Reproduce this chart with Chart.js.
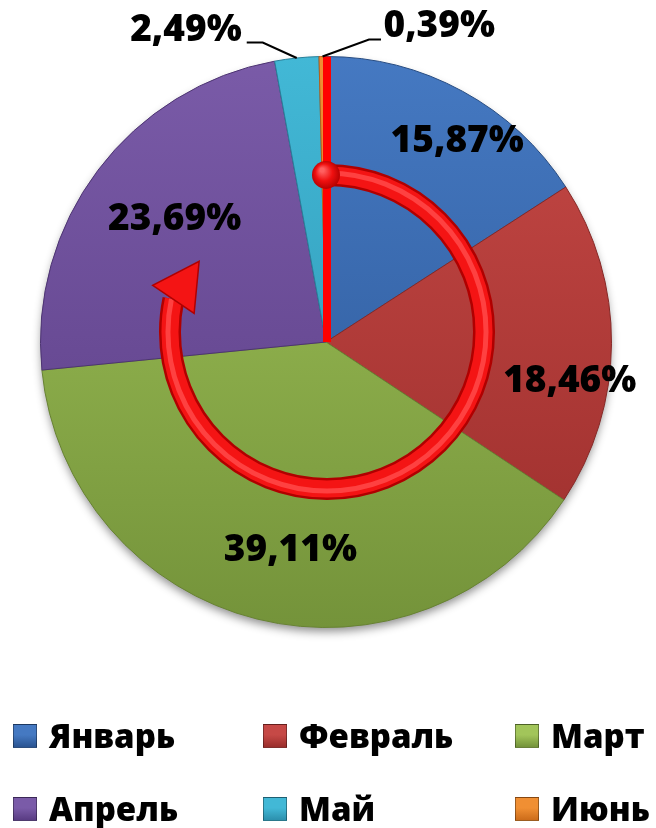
<!DOCTYPE html>
<html>
<head>
<meta charset="utf-8">
<script src="https://cdn.jsdelivr.net/npm/chart.js@4.4.0/dist/chart.umd.min.js"></script>
<style>
  body { margin: 0; background: #fff; width: 656px; height: 828px; overflow: hidden; font-family: "Open Sans", sans-serif; }
  #wrap { position: relative; width: 656px; height: 680px; }
  #legend { position: absolute; left: 0; top: 0; width: 656px; height: 828px; pointer-events: none; }
  .item { position: absolute; display: flex; align-items: center; font-weight: 800; font-size: 33px; color: #000; line-height: 40px; height: 40px; }
  .box { width: 22px; height: 22px; margin-right: 12px; border: 1px solid rgba(0,0,0,0.35); box-sizing: content-box; }
</style>
</head>
<body>
<div id="wrap"><canvas id="pie"></canvas></div>
<div id="legend"></div>
<script>
// данные
const months = ['Январь', 'Февраль', 'Март', 'Апрель', 'Май', 'Июнь'];
const shares = [15.87, 18.46, 39.11, 23.69, 2.49, 0.39];
const shareText = shares.map(v => v.toFixed(2).replace('.', ',') + '%');

// цвета: верх / низ градиента
const topColors = ['#4579c2', '#c64946', '#a2c55a', '#7a5ba8', '#42b8d6', '#f08f33'];
const bottomColors = ['#2a5492', '#9a2d2b', '#74933a', '#593c83', '#2c90ad', '#cc6c1a'];
const edgeColors = ['#274c82', '#862826', '#678232', '#4d3472', '#28809a', '#b5601a'];

// легенда (HTML)
const legendEl = document.getElementById('legend');
const colX = [13, 263, 515];
const rowY = [716, 789];
months.forEach((m, i) => {
  const d = document.createElement('div');
  d.className = 'item';
  d.style.left = colX[i % 3] + 'px';
  d.style.top = rowY[Math.floor(i / 3)] + 'px';
  const b = document.createElement('span');
  b.className = 'box';
  b.style.background = 'linear-gradient(180deg,' + topColors[i] + ' 0%,' + topColors[i] + ' 45%,' + bottomColors[i] + ' 100%)';
  const t = document.createElement('span');
  t.textContent = m;
  d.appendChild(b);
  d.appendChild(t);
  legendEl.appendChild(d);
});

function sliceFill(context) {
  const chart = context.chart;
  const area = chart.chartArea;
  const i = context.dataIndex;
  if (!area) return topColors[i];
  const g = chart.ctx.createLinearGradient(0, area.top, 0, area.bottom);
  g.addColorStop(0, topColors[i]);
  g.addColorStop(1, bottomColors[i]);
  return g;
}

// тень под кругом
const shadowPlugin = {
  id: 'pieShadow',
  beforeDatasetsDraw(chart) {
    const arc = chart.getDatasetMeta(0).data[0];
    if (!arc) return;
    const ctx = chart.ctx;
    ctx.save();
    ctx.shadowColor = 'rgba(0,0,0,0.45)';
    ctx.shadowBlur = 10;
    ctx.shadowOffsetY = 5;
    ctx.beginPath();
    ctx.arc(arc.x, arc.y, arc.outerRadius - 1, 0, Math.PI * 2);
    ctx.fillStyle = '#fff';
    ctx.fill();
    ctx.restore();
  }
};

// красная стрелка и линия
const arrowPlugin = {
  id: 'redArrow',
  afterDatasetsDraw(chart) {
    const arcs = chart.getDatasetMeta(0).data;
    const a0 = arcs[0];
    const ctx = chart.ctx;
    const cx = a0.x, cy = a0.y, R = a0.outerRadius;
    const start = a0.startAngle;

    ctx.save();
    // линия начала отсчёта
    ctx.strokeStyle = '#ff0000';
    ctx.lineWidth = 8;
    ctx.beginPath();
    ctx.moveTo(cx + 1, cy);
    ctx.lineTo(cx + 1 + Math.cos(start) * R, cy + Math.sin(start) * R);
    ctx.stroke();

    // кольцо
    const rx = cx + 1, ry = cy - 10, rr = R * 0.55;
    const endA = 192 * Math.PI / 180;
    ctx.lineCap = 'butt';
    ctx.strokeStyle = '#b00000';
    ctx.lineWidth = 22;
    ctx.beginPath();
    ctx.arc(rx, ry, rr, -Math.PI / 2, endA);
    ctx.stroke();
    ctx.strokeStyle = '#f41414';
    ctx.lineWidth = 17;
    ctx.beginPath();
    ctx.arc(rx, ry, rr, -Math.PI / 2, endA);
    ctx.stroke();
    ctx.strokeStyle = 'rgba(255,70,70,0.9)';
    ctx.lineWidth = 5;
    ctx.beginPath();
    ctx.arc(rx, ry, rr + 2, -Math.PI / 2, endA);
    ctx.stroke();

    // наконечник
    const bx = rx + Math.cos(endA) * rr, by = ry + Math.sin(endA) * rr;
    const dir = Math.atan2(Math.cos(endA), -Math.sin(endA)) + 22 * Math.PI / 180;
    const ux = Math.cos(dir), uy = Math.sin(dir);
    const px = -uy, py = ux;
    ctx.beginPath();
    ctx.moveTo(bx + ux * 46, by + uy * 46);
    ctx.lineTo(bx + px * 25, by + py * 25);
    ctx.lineTo(bx - px * 25, by - py * 25);
    ctx.closePath();
    ctx.fillStyle = '#f41414';
    ctx.fill();
    ctx.strokeStyle = '#b00000';
    ctx.lineWidth = 1.5;
    ctx.stroke();

    // шарик
    const gx = rx - 1, gy = ry - rr;
    const bg = ctx.createRadialGradient(gx - 4, gy - 5, 2, gx, gy, 15);
    bg.addColorStop(0, '#ff6060');
    bg.addColorStop(0.5, '#f01010');
    bg.addColorStop(1, '#b00000');
    ctx.fillStyle = bg;
    ctx.beginPath();
    ctx.arc(gx, gy, 14, 0, Math.PI * 2);
    ctx.fill();
    ctx.restore();
  }
};

// подписи долей
const labelPlugin = {
  id: 'sliceLabels',
  afterDatasetsDraw(chart, args, opts) {
    const arcs = chart.getDatasetMeta(0).data;
    const ctx = chart.ctx;
    ctx.save();
    ctx.font = '800 37px "Open Sans"';
    ctx.fillStyle = '#000';
    ctx.textBaseline = 'middle';
    arcs.forEach((arc, i) => {
      const mid = (arc.startAngle + arc.endAngle) / 2;
      const R = arc.outerRadius;
      const out = opts.outside[i];
      if (out) {
        const ex = arc.x + Math.cos(mid) * R, ey = arc.y + Math.sin(mid) * R;
        ctx.strokeStyle = '#000';
        ctx.lineWidth = 2;
        ctx.beginPath();
        ctx.moveTo(ex, ey);
        ctx.lineTo(ex + out.elbow[0], ey + out.elbow[1]);
        ctx.lineTo(ex + out.end[0], ey + out.end[1]);
        ctx.stroke();
        ctx.textAlign = out.align;
        ctx.fillText(shareText[i], ex + out.text[0], ey + out.text[1]);
      } else {
        const p = opts.inside[i];
        const a = mid + p.turn * Math.PI / 180;
        ctx.textAlign = 'center';
        ctx.fillText(shareText[i], arc.x + Math.cos(a) * R * p.dist, arc.y + Math.sin(a) * R * p.dist);
      }
    });
    ctx.restore();
  }
};

new Chart(document.getElementById('pie'), {
  type: 'pie',
  data: {
    labels: months,
    datasets: [{
      data: shares,
      backgroundColor: sliceFill,
      borderColor: edgeColors,
      borderWidth: 1,
      hoverOffset: 0
    }]
  },
  options: {
    responsive: true,
    maintainAspectRatio: false,
    animation: false,
    layout: { padding: { left: 38, right: 42, top: 56, bottom: 52 } },
    plugins: {
      legend: { display: false },
      tooltip: { enabled: false },
      sliceLabels: {
        inside: {
          0: { turn: 4.7, dist: 0.838 },
          1: { turn: 8.9, dist: 0.865 },
          2: { turn: -4.3, dist: 0.742 },
          3: { turn: 2.1, dist: 0.683 }
        },
        outside: {
          4: { elbow: [-34, -15.5], end: [-50, -15.5], text: [-55, -28], align: 'right' },
          5: { elbow: [46.5, -17], end: [58.5, -17], text: [61, -30], align: 'left' }
        }
      }
    }
  },
  plugins: [shadowPlugin, arrowPlugin, labelPlugin]
});
</script>
</body>
</html>
